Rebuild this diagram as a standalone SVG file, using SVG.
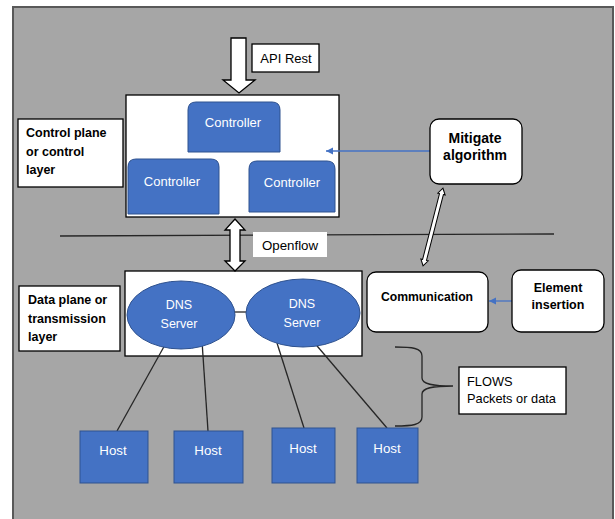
<svg xmlns="http://www.w3.org/2000/svg" width="615" height="519" viewBox="0 0 615 519">
<defs>
<style>
.t{font-family:"Liberation Sans",Arial,sans-serif;fill:#000}
.b{font-weight:bold}
.w{fill:#FFFFFF}
.box{fill:#FFFFFF;stroke:#000;stroke-width:1.3}
.blue{fill:#4472C4;stroke:#2F528F;stroke-width:1}
.ln{stroke:#262626;stroke-width:1.3;fill:none}
.blink{stroke:#4472C4;stroke-width:1.3;fill:none}
.blk{fill:#FFFFFF;stroke:#000;stroke-width:1.3;stroke-linejoin:miter}
</style>
<marker id="ah" markerWidth="8" markerHeight="8" refX="7" refY="4" orient="auto" markerUnits="userSpaceOnUse">
<path d="M0,0.5 L7,4 L0,7.5 Z" fill="#4472C4"/>
</marker>
</defs>
<rect x="13" y="7" width="600" height="520" fill="#A6A6A6" stroke="#595959" stroke-width="2"/>

<g id="control-box">
<rect class="box" x="126" y="95" width="213" height="122"/>
</g>
<g id="data-box">
<rect class="box" x="125" y="271" width="237" height="85"/>
</g>

<g id="connectors">
<line class="ln" x1="60" y1="236" x2="554" y2="234"/>
<polygon id="api-arrow" class="blk" points="231,38 246,38 246,80 255,80 239,93 223,80 231,80"/>
<polygon id="openflow-arrow" class="blk" points="235,219 245,230 240,230 240,261 245,261 235,271 225,261 230,261 230,230 225,230"/>
<polygon id="mitigate-comm-arrow" class="blk" transform="translate(433,227) rotate(14.4)" points="0,-40 3.8,-34 2,-34 2,34 3.8,34 0,40 -3.8,34 -2,34 -2,-34 -3.8,-34" style="stroke-width:1"/>
<line class="blink" x1="430" y1="151" x2="326" y2="151" marker-end="url(#ah)"/>
<line class="blink" x1="512" y1="301" x2="489" y2="301" marker-end="url(#ah)"/>
<line class="ln" x1="227" y1="312" x2="247" y2="312"/>
<line class="ln" x1="166" y1="343" x2="117" y2="431"/>
<line class="ln" x1="202" y1="341" x2="208" y2="431"/>
<line class="ln" x1="277" y1="343" x2="304" y2="428"/>
<line class="ln" x1="312" y1="340" x2="387" y2="428"/>
<path class="ln" d="M395,347 C412,347 422,348 422,356 L422,378 C422,384 432,386 453,386 C432,386 422,388 422,394 L422,417 C422,425 412,426 395,426"/>
</g>

<g id="api-rest">
<rect class="box" x="252" y="44" width="67" height="28"/>
<text class="t" x="286" y="62.5" font-size="13" text-anchor="middle">API Rest</text>
</g>

<g id="control-plane-label">
<rect class="box" x="18" y="119" width="105" height="68"/>
<text class="t b" x="26" y="136.5" font-size="12.5">Control plane</text>
<text class="t b" x="26" y="155.5" font-size="12.5">or control</text>
<text class="t b" x="26" y="173.5" font-size="12.5">layer</text>
</g>

<g id="controller-top">
<path class="blue" d="M188,152 L188,110 Q188,102 196,102 L272,102 Q280,102 280,110 L280,152 Z"/>
<text class="t w" x="233" y="126.5" font-size="13" text-anchor="middle">Controller</text>
</g>
<g id="controller-left">
<path class="blue" d="M128,214 L128,167 Q128,159 136,159 L211,159 Q219,159 219,167 L219,214 Z"/>
<text class="t w" x="172" y="185.5" font-size="13" text-anchor="middle">Controller</text>
</g>
<g id="controller-right">
<path class="blue" d="M249,212 L249,169 Q249,161 257,161 L327,161 Q335,161 335,169 L335,212 Z"/>
<text class="t w" x="292" y="186.5" font-size="13" text-anchor="middle">Controller</text>
</g>

<g id="mitigate">
<rect class="box" x="430" y="119" width="92" height="65" rx="9"/>
<text class="t b" x="475" y="143" font-size="14" text-anchor="middle">Mitigate</text>
<text class="t b" x="475" y="160" font-size="14" text-anchor="middle">algorithm</text>
</g>

<g id="openflow">
<rect x="253" y="232" width="74" height="25" fill="#FFFFFF"/>
<text class="t" x="290" y="249.5" font-size="13.3" text-anchor="middle">Openflow</text>
</g>

<g id="data-plane-label">
<rect class="box" x="19" y="286" width="101" height="65"/>
<text class="t b" x="28" y="303.5" font-size="12.5">Data plane or</text>
<text class="t b" x="28" y="322.5" font-size="12.5">transmission</text>
<text class="t b" x="28" y="340.5" font-size="12.5">layer</text>
</g>

<g id="dns1">
<ellipse class="blue" cx="181" cy="315" rx="54" ry="34"/>
<text class="t w" x="179" y="308.5" font-size="12.5" text-anchor="middle">DNS</text>
<text class="t w" x="179" y="327.5" font-size="12.5" text-anchor="middle">Server</text>
</g>
<g id="dns2">
<ellipse class="blue" cx="303" cy="313" rx="57" ry="34"/>
<text class="t w" x="302" y="307.5" font-size="12.5" text-anchor="middle">DNS</text>
<text class="t w" x="302" y="326.5" font-size="12.5" text-anchor="middle">Server</text>
</g>

<g id="communication">
<rect class="box" x="367" y="272" width="121" height="60" rx="9"/>
<text class="t b" x="427" y="300.5" font-size="12.2" text-anchor="middle">Communication</text>
</g>

<g id="element-insertion">
<rect class="box" x="512" y="270" width="92" height="62" rx="9"/>
<text class="t b" x="558" y="291.5" font-size="12.5" text-anchor="middle">Element</text>
<text class="t b" x="558" y="308.5" font-size="12.5" text-anchor="middle">insertion</text>
</g>

<g id="flows">
<rect class="box" x="459" y="367" width="107" height="47"/>
<text class="t" x="467" y="385.5" font-size="12.8">FLOWS</text>
<text class="t" x="467" y="402.5" font-size="12.8">Packets or data</text>
</g>

<g id="host1">
<rect class="blue" x="80" y="431" width="68" height="52"/>
<text class="t w" x="113" y="454.5" font-size="13.3" text-anchor="middle">Host</text>
</g>
<g id="host2">
<rect class="blue" x="174" y="431" width="69" height="52"/>
<text class="t w" x="208" y="454.5" font-size="13.3" text-anchor="middle">Host</text>
</g>
<g id="host3">
<rect class="blue" x="272" y="428" width="63" height="55"/>
<text class="t w" x="303" y="452.5" font-size="13.3" text-anchor="middle">Host</text>
</g>
<g id="host4">
<rect class="blue" x="357" y="428" width="61" height="55"/>
<text class="t w" x="387" y="452.5" font-size="13.3" text-anchor="middle">Host</text>
</g>
</svg>
